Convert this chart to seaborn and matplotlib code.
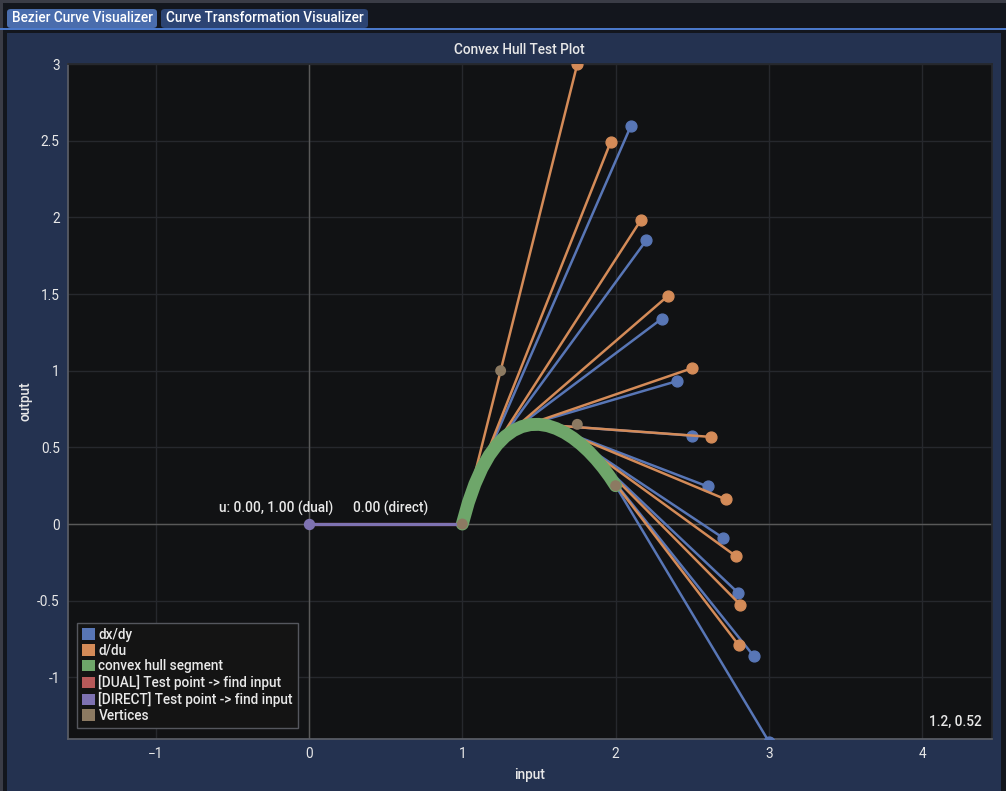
import numpy as np
import pandas as pd
import seaborn as sns
import matplotlib.pyplot as plt
from matplotlib.patches import Rectangle, FancyBboxPatch, Patch

# ---- data ----
curve_x = [1.0, 1.0393, 1.082, 1.1277, 1.176, 1.2266, 1.279, 1.3329, 1.388, 1.4438, 1.5,
           1.5562, 1.612, 1.6671, 1.721, 1.7734, 1.824, 1.8723, 1.918, 1.9607, 2.0]
curve_y = [0.0, 0.14, 0.2608, 0.3633, 0.4484, 0.5172, 0.5706, 0.6096, 0.6352, 0.6483, 0.65,
           0.6412, 0.6228, 0.5959, 0.5614, 0.5203, 0.4736, 0.4222, 0.3672, 0.3095, 0.25]

# d/du tangents: start on the curve, end at marker
du_start_x = [1.0, 1.082, 1.176, 1.279, 1.388, 1.5, 1.612, 1.721, 1.824, 1.918]
du_start_y = [0.0, 0.2608, 0.4484, 0.5706, 0.6352, 0.65, 0.6228, 0.5614, 0.4736, 0.3672]
du_end_x = [1.75, 1.967, 2.166, 2.344, 2.498, 2.622, 2.72, 2.785, 2.812, 2.803]
du_end_y = [3.0, 2.49, 1.984, 1.49, 1.016, 0.568, 0.16, -0.21, -0.525, -0.79]

# dx/dy tangents
dx_start_x = [1.1, 1.2, 1.3, 1.4, 1.5, 1.6, 1.7, 1.8, 1.9, 2.0]
dx_start_y = [0.304, 0.483, 0.588, 0.639, 0.65, 0.628, 0.576, 0.497, 0.39, 0.25]
dx_end_x = [2.1, 2.2, 2.3, 2.4, 2.5, 2.6, 2.7, 2.8, 2.9, 3.0]
dx_end_y = [2.597, 1.85, 1.338, 0.932, 0.576, 0.245, -0.09, -0.45, -0.86, -1.42]

vert_x = [1.0, 1.25, 1.75, 2.0]
vert_y = [0.0, 1.0, 0.65, 0.25]

test_x = [0.0, 1.0]
test_y = [0.0, 0.0]

legend_labels = ["dx/dy", "d/du", "convex hull segment", "[DUAL] Test point -> find input",
                 "[DIRECT] Test point -> find input", "Vertices"]
x_ticks = [-1, 0, 1, 2, 3, 4]
y_ticks = [-1, -0.5, 0, 0.5, 1, 1.5, 2, 2.5, 3]
y_ticklabels = ["-1", "-0.5", "0", "0.5", "1", "1.5", "2", "2.5", "3"]

# ---- style ----
sns.set_theme(style="dark")
plt.rcParams['font.family'] = ['Roboto', 'DejaVu Sans']
pal = sns.color_palette(['#5876b6', '#d48b58', '#6ea66a', '#b85a5a', '#7e72b2', '#8c7a62'])
blue, orange, green, red, purple, brown = pal
txt = '#e8e8e8'
FS = 9.8

W, H = 1006, 791
fig = plt.figure(figsize=(W / 100, H / 100), dpi=100)
fig.patch.set_facecolor('#13161d')


def px_rect(x0, y0, x1, y1, color):
    fig.add_artist(Rectangle((x0 / W, 1 - y1 / H), (x1 - x0) / W, (y1 - y0) / H,
                             transform=fig.transFigure, facecolor=color, edgecolor='none', zorder=0))


px_rect(0, 0, W, 3, '#3a3c46')
px_rect(0, 0, 3, H, '#3a3c46')
px_rect(7, 33, 1001, H, '#243250')
px_rect(0, 28, W, 29.5, '#4a78c9')

for (x0, x1, col, label) in [(7, 157, '#4a6dad', 'Bezier Curve Visualizer'),
                             (161, 368, '#2c4473', 'Curve Transformation Visualizer')]:
    fig.add_artist(FancyBboxPatch((x0 / W, 1 - 28 / H), (x1 - x0) / W, 19 / H,
                                  boxstyle="round,pad=0,rounding_size=0.004",
                                  transform=fig.transFigure, facecolor=col, edgecolor='none'))
    fig.text((x0 + 5) / W, 1 - 18.5 / H, label, color='white', fontsize=FS,
             fontweight='medium', ha='left', va='center')

fig.text(519.5 / W, 1 - 50 / H, "Convex Hull Test Plot", color=txt, fontsize=FS,
         fontweight='medium', ha='center', va='center')

ax = fig.add_axes([68 / W, (H - 739) / H, 924 / W, 675 / H])
ax.set_facecolor('#111214')
ax.set_xlim(-1.572, 4.455)
ax.set_ylim(-1.402, 3.0)
ax.set_xticks(x_ticks)
ax.set_yticks(y_ticks)
ax.set_yticklabels(y_ticklabels)
ax.grid(True, color='#26282d', lw=1)
ax.tick_params(colors=txt, labelsize=FS, direction='in', length=5, width=1,
               color='#4a4d55', pad=6)
for s in ['left', 'bottom']:
    ax.spines[s].set_color('#5a5d66')
for s in ['top', 'right']:
    ax.spines[s].set_color('#26282d')
ax.axhline(0, color='#595959', lw=1, zorder=1)
ax.axvline(0, color='#595959', lw=1, zorder=1)

lw_t = 1.8
ms = 7.8
for sx, sy, ex, ey in zip(dx_start_x, dx_start_y, dx_end_x, dx_end_y):
    ax.plot([sx, ex], [sy, ey], color=blue, lw=lw_t, marker='o', markevery=[1], ms=ms, zorder=3)
for sx, sy, ex, ey in zip(du_start_x, du_start_y, du_end_x, du_end_y):
    ax.plot([sx, ex], [sy, ey], color=orange, lw=lw_t, marker='o', markevery=[1], ms=ms, zorder=4)

curve = pd.DataFrame({"x": curve_x, "y": curve_y})
sns.lineplot(data=curve, x="x", y="y", sort=False, estimator=None, color=green,
             lw=9.3, solid_capstyle='round', ax=ax, zorder=5)

ax.plot(test_x, test_y, color=red, lw=2.3, zorder=6)
ax.plot(test_x, test_y, color=purple, lw=2.3, marker='o', markevery=[0], ms=7.2, zorder=7)

sns.scatterplot(x=vert_x, y=vert_y, color=brown, s=62, edgecolor='none', ax=ax, zorder=8)

ax.text(-0.215, 0.104, "u: 0.00, 1.00 (dual)", color=txt, fontsize=FS, fontweight='medium',
        ha='center', va='center', zorder=9)
ax.text(0.535, 0.104, "0.00 (direct)", color=txt, fontsize=FS, fontweight='medium',
        ha='center', va='center', zorder=9)
ax.set_xlabel("input", color=txt, fontsize=FS, fontweight='medium', labelpad=5)
ax.set_ylabel("output", color=txt, fontsize=FS, fontweight='medium', labelpad=3)

ax.text(0.9889, 0.0256, "1.2, 0.52", transform=ax.transAxes, color=txt, fontsize=FS,
        fontweight='medium', ha='right', va='center', zorder=9)

handles = [Patch(facecolor=c, edgecolor='none') for c in [blue, orange, green, red, purple, brown]]
leg = ax.legend(handles, legend_labels, loc='lower left', bbox_to_anchor=(0.0097, 0.0163),
                borderaxespad=0, frameon=True, fancybox=False, facecolor='#141414',
                edgecolor='#55575e', framealpha=1, fontsize=FS, handlelength=0.95,
                handleheight=0.95, handletextpad=0.25, labelspacing=0.13, borderpad=0.38)
for t in leg.get_texts():
    t.set_color(txt)
    t.set_fontweight('medium')
leg.set_zorder(10)

fig.savefig("out.png", dpi=100, facecolor=fig.get_facecolor())
